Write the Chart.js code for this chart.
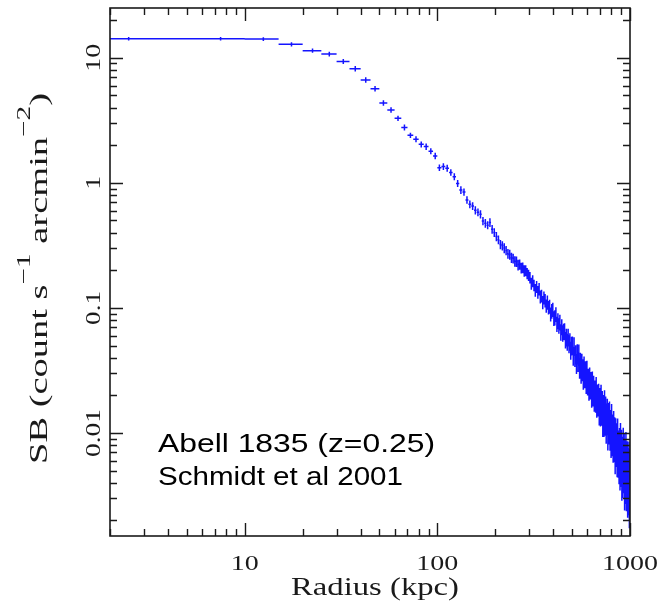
<!DOCTYPE html>
<html>
<head>
<meta charset="utf-8">
<script src="https://cdn.jsdelivr.net/npm/chart.js@4.4.1/dist/chart.umd.min.js"></script>
<style>
  html, body { margin: 0; padding: 0; background: #fff; }
  canvas { display: block; }
</style>
</head>
<body>
<canvas id="chart" width="664" height="609"></canvas>
<script>
// radial bins, 5 kpc wide
const radiusKpc = [
  2.5, 7.5, 12.5, 17.5, 22.5, 27.5, 32.5, 37.5, 42.5, 47.5,
  52.5, 57.5, 62.5, 67.5, 72.5, 77.5, 82.5, 87.5, 92.5, 97.5,
  102.5, 107.5, 112.5, 117.5, 122.5, 127.5, 132.5, 137.5, 142.5, 147.5,
  152.5, 157.5, 162.5, 167.5, 172.5, 177.5, 182.5, 187.5, 192.5, 197.5,
  202.5, 207.5, 212.5, 217.5, 222.5, 227.5, 232.5, 237.5, 242.5, 247.5,
  252.5, 257.5, 262.5, 267.5, 272.5, 277.5, 282.5, 287.5, 292.5, 297.5,
  302.5, 307.5, 312.5, 317.5, 322.5, 327.5, 332.5, 337.5, 342.5, 347.5,
  352.5, 357.5, 362.5, 367.5, 372.5, 377.5, 382.5, 387.5, 392.5, 397.5,
  402.5, 407.5, 412.5, 417.5, 422.5, 427.5, 432.5, 437.5, 442.5, 447.5,
  452.5, 457.5, 462.5, 467.5, 472.5, 477.5, 482.5, 487.5, 492.5, 497.5,
  502.5, 507.5, 512.5, 517.5, 522.5, 527.5, 532.5, 537.5, 542.5, 547.5,
  552.5, 557.5, 562.5, 567.5, 572.5, 577.5, 582.5, 587.5, 592.5, 597.5,
  602.5, 607.5, 612.5, 617.5, 622.5, 627.5, 632.5, 637.5, 642.5, 647.5,
  652.5, 657.5, 662.5, 667.5, 672.5, 677.5, 682.5, 687.5, 692.5, 697.5,
  702.5, 707.5, 712.5, 717.5, 722.5, 727.5, 732.5, 737.5, 742.5, 747.5,
  752.5, 757.5, 762.5, 767.5, 772.5, 777.5, 782.5, 787.5, 792.5, 797.5,
  802.5, 807.5, 812.5, 817.5, 822.5, 827.5, 832.5, 837.5, 842.5, 847.5,
  852.5, 857.5, 862.5, 867.5, 872.5, 877.5, 882.5, 887.5, 892.5, 897.5,
  902.5, 907.5, 912.5, 917.5, 922.5, 927.5, 932.5, 937.5, 942.5, 947.5,
  952.5, 957.5, 962.5, 967.5, 972.5, 977.5, 982.5, 987.5, 992.5, 997.5,
];

// surface brightness, count s^-1 arcmin^-2
const surfBright = [
  14.2, 14.2, 14.1, 12.8, 11.4, 10.7, 9.35, 8.17, 6.64, 5.66,
  4.35, 3.83, 3.28, 2.77, 2.40, 2.23, 2.03, 1.95, 1.79, 1.64,
  1.32, 1.35, 1.31, 1.21, 1.12, 0.99, 0.877, 0.845, 0.730, 0.674,
  0.653, 0.604, 0.582, 0.561, 0.496, 0.476, 0.459, 0.482, 0.426, 0.401,
  0.372, 0.351, 0.322, 0.315, 0.301, 0.288, 0.271, 0.267, 0.252, 0.249,
  0.236, 0.235, 0.221, 0.223, 0.209, 0.210, 0.198, 0.199, 0.189, 0.183,
  0.175, 0.157, 0.164, 0.152, 0.139, 0.148, 0.134, 0.142, 0.123, 0.125,
  0.111, 0.121, 0.115, 0.104, 0.111, 0.101, 0.103, 0.0893, 0.0946, 0.0971,
  0.0828, 0.0839, 0.0891, 0.0745, 0.0791, 0.0724, 0.0771, 0.0643, 0.0708, 0.0632,
  0.0650, 0.0652, 0.0557, 0.0586, 0.0538, 0.0586, 0.0519, 0.0541, 0.0461, 0.0502,
  0.0505, 0.0417, 0.0497, 0.0410, 0.0428, 0.0361, 0.0432, 0.0374, 0.0428, 0.0333,
  0.0368, 0.0308, 0.0361, 0.0324, 0.0275, 0.0340, 0.0286, 0.0312, 0.0259, 0.0314,
  0.0252, 0.0269, 0.0229, 0.0274, 0.0236, 0.0252, 0.0205, 0.0254, 0.0211, 0.0234,
  0.0192, 0.0213, 0.0188, 0.0226, 0.0173, 0.0197, 0.0179, 0.0200, 0.0153, 0.0184,
  0.0150, 0.0193, 0.0153, 0.0172, 0.0127, 0.0160, 0.0127, 0.0172, 0.0130, 0.0153,
  0.0114, 0.0134, 0.0147, 0.0102, 0.0134, 0.0114, 0.0137, 0.0102, 0.0117, 0.00902,
  0.0130, 0.00938, 0.0107, 0.00849, 0.0114, 0.00863, 0.0101, 0.00698, 0.00984, 0.00798,
  0.00893, 0.00676, 0.00975, 0.00675, 0.00773, 0.00598, 0.00805, 0.00545, 0.00885, 0.00586,
  0.00773, 0.00456, 0.00676, 0.00491, 0.00796, 0.00541, 0.00714, 0.00394, 0.00625, 0.00454,
  0.00721, 0.00398, 0.00526, 0.00605, 0.00358, 0.00531, 0.00386, 0.00600, 0.00309, 0.00514,
];

// 1-sigma error as a fraction of the value
const relErr = [
  0.03, 0.03, 0.035, 0.04, 0.04, 0.045, 0.045, 0.05, 0.05, 0.05,
  0.05, 0.05, 0.05, 0.055, 0.05, 0.055, 0.055, 0.06, 0.055, 0.06,
  0.06, 0.06, 0.065, 0.06, 0.065, 0.065, 0.07, 0.065, 0.07, 0.07,
  0.07, 0.075, 0.07, 0.075, 0.075, 0.08, 0.075, 0.08, 0.08, 0.08,
  0.085, 0.08, 0.085, 0.085, 0.09, 0.085, 0.09, 0.09, 0.095, 0.09,
  0.095, 0.095, 0.1, 0.095, 0.1, 0.1, 0.105, 0.1, 0.105, 0.105,
  0.105, 0.11, 0.11, 0.105, 0.115, 0.11, 0.115, 0.115, 0.12, 0.115,
  0.12, 0.12, 0.125, 0.12, 0.13, 0.125, 0.13, 0.13, 0.135, 0.13,
  0.135, 0.14, 0.135, 0.14, 0.145, 0.14, 0.145, 0.15, 0.145, 0.15,
  0.15, 0.155, 0.15, 0.16, 0.155, 0.16, 0.165, 0.16, 0.165, 0.17,
  0.17, 0.175, 0.17, 0.18, 0.175, 0.18, 0.185, 0.18, 0.19, 0.185,
  0.19, 0.195, 0.19, 0.2, 0.195, 0.2, 0.205, 0.2, 0.21, 0.205,
  0.21, 0.215, 0.21, 0.22, 0.215, 0.22, 0.225, 0.22, 0.23, 0.225,
  0.23, 0.235, 0.23, 0.24, 0.235, 0.24, 0.245, 0.24, 0.25, 0.245,
  0.25, 0.26, 0.255, 0.26, 0.27, 0.26, 0.27, 0.275, 0.27, 0.28,
  0.28, 0.285, 0.28, 0.29, 0.295, 0.29, 0.3, 0.295, 0.305, 0.3,
  0.31, 0.305, 0.315, 0.32, 0.315, 0.325, 0.32, 0.33, 0.335, 0.33,
  0.34, 0.345, 0.34, 0.35, 0.355, 0.35, 0.36, 0.365, 0.36, 0.37,
  0.375, 0.37, 0.38, 0.385, 0.38, 0.39, 0.395, 0.39, 0.4, 0.405,
  0.41, 0.405, 0.415, 0.42, 0.415, 0.425, 0.43, 0.425, 0.44, 0.45,
];

const binHalfWidth = 2.5;

const xTickValues = [10, 100, 1000];
const xTickLabels = ["10", "100", "1000"];
const yTickValues = [0.01, 0.1, 1, 10];
const yTickLabels = ["0.01", "0.1", "1", "10"];

const xTitle = "Radius (kpc)";
const yTitleParts = [
  { text: "SB (count s", sup: false },
  { text: "\u22121", sup: true },
  { text: " arcmin", sup: false },
  { text: "\u22122", sup: true },
  { text: ")", sup: false },
];
const noteLines = ["Abell 1835 (z=0.25)", "Schmidt et al 2001"];

const AXIS_FONT = "'Liberation Serif', 'DejaVu Serif', serif";
const INK = "#1a1a1a";
const DATA_BLUE = "#1414ff";

// 1..9 x 10^n positions inside [min, max]
function logTickPositions(min, max) {
  const out = [];
  for (let e = Math.floor(Math.log10(min)); e <= Math.ceil(Math.log10(max)); e++) {
    for (let m = 1; m <= 9; m++) {
      const v = m * Math.pow(10, e);
      if (v >= min * 0.9999 && v <= max * 1.0001) out.push({ v, major: m === 1 });
    }
  }
  return out;
}

// draw text stretched along its own direction to a given length
function drawFitted(ctx, parts, targetLen, align) {
  let total = 0;
  parts.forEach((p) => {
    ctx.font = p.font;
    p.w = ctx.measureText(p.text).width;
    total += p.w;
  });
  const sx = targetLen / total;
  ctx.scale(sx, 1);
  let x = align === "center" ? -total / 2 : 0;
  ctx.textAlign = "left";
  ctx.textBaseline = "alphabetic";
  parts.forEach((p) => {
    ctx.font = p.font;
    ctx.fillText(p.text, x, p.dy || 0);
    x += p.w;
  });
}

const errorBars = {
  id: "errorBars",
  afterDatasetsDraw(chart) {
    const { ctx, chartArea: a, scales: { x, y } } = chart;
    ctx.save();
    ctx.beginPath();
    ctx.rect(a.left, a.top, a.right - a.left, a.bottom - a.top);
    ctx.clip();
    ctx.strokeStyle = DATA_BLUE;
    ctx.lineWidth = 1.5;
    ctx.beginPath();
    radiusKpc.forEach((r, i) => {
      const sb = surfBright[i];
      const err = sb * relErr[i];
      const px = x.getPixelForValue(r);
      const py = y.getPixelForValue(sb);
      const lo = r - binHalfWidth > 0 ? r - binHalfWidth : x.min;
      ctx.moveTo(x.getPixelForValue(lo), py);
      ctx.lineTo(x.getPixelForValue(r + binHalfWidth), py);
      const yLo = sb - err > 0 ? sb - err : y.min;
      ctx.moveTo(px, y.getPixelForValue(yLo));
      ctx.lineTo(px, y.getPixelForValue(sb + err));
    });
    ctx.stroke();
    ctx.restore();
  },
};

const frameAndText = {
  id: "frameAndText",
  afterDraw(chart) {
    const { ctx, chartArea: a, scales: { x, y } } = chart;
    ctx.save();
    ctx.strokeStyle = INK;
    ctx.lineWidth = 1.6;
    ctx.strokeRect(a.left, a.top, a.right - a.left, a.bottom - a.top);

    // inward ticks on all four sides
    ctx.lineWidth = 1.4;
    ctx.beginPath();
    logTickPositions(x.min, x.max).forEach((t) => {
      const px = Math.round(x.getPixelForValue(t.v)) + 0.5;
      const len = t.major ? 13 : 7;
      ctx.moveTo(px, a.bottom); ctx.lineTo(px, a.bottom - len);
      ctx.moveTo(px, a.top); ctx.lineTo(px, a.top + len);
    });
    logTickPositions(y.min, y.max).forEach((t) => {
      const py = Math.round(y.getPixelForValue(t.v)) + 0.5;
      const len = t.major ? 13 : 7;
      ctx.moveTo(a.left, py); ctx.lineTo(a.left + len, py);
      ctx.moveTo(a.right, py); ctx.lineTo(a.right - len, py);
    });
    ctx.stroke();

    ctx.fillStyle = INK;
    const tickFont = "22px " + AXIS_FONT;

    xTickValues.forEach((v, i) => {
      ctx.save();
      ctx.translate(x.getPixelForValue(v), 570);
      drawFitted(ctx, [{ text: xTickLabels[i], font: tickFont }], xTickLabels[i].length * 14, "center");
      ctx.restore();
    });

    yTickValues.forEach((v, i) => {
      ctx.save();
      ctx.translate(100, y.getPixelForValue(v));
      ctx.rotate(-Math.PI / 2);
      const lbl = yTickLabels[i];
      const len = lbl.replace(".", "").length * 14 + (lbl.includes(".") ? 6 : 0);
      drawFitted(ctx, [{ text: lbl, font: tickFont }], len, "center");
      ctx.restore();
    });

    // x title
    ctx.save();
    ctx.translate((a.left + a.right) / 2 + 5, 595);
    drawFitted(ctx, [{ text: xTitle, font: "26px " + AXIS_FONT }], 168, "center");
    ctx.restore();

    // y title with superscripts
    ctx.save();
    ctx.translate(47, 464);
    ctx.rotate(-Math.PI / 2);
    const parts = yTitleParts.map((p) => ({
      text: p.text,
      font: (p.sup ? "19px " : "25px ") + AXIS_FONT,
      dy: p.sup ? -17 : 0,
    }));
    drawFitted(ctx, parts, 371, "left");
    ctx.restore();

    // annotation
    ctx.fillStyle = "#000";
    const noteFont = "26px 'Liberation Sans', Arial, sans-serif";
    [[452, 277], [485, 245]].forEach(([by, w], i) => {
      ctx.save();
      ctx.translate(158, by);
      drawFitted(ctx, [{ text: noteLines[i], font: noteFont }], w, "left");
      ctx.restore();
    });

    ctx.restore();
  },
};

const chartData = {
  datasets: [
    {
      label: "SB",
      data: radiusKpc.map((r, i) => ({ x: r, y: surfBright[i] })),
      pointRadius: 0,
      showLine: false,
    },
  ],
};

const chartConfig = {
  type: "scatter",
  data: chartData,
  options: {
    responsive: false,
    animation: false,
    devicePixelRatio: 1,
    layout: { padding: { left: 110, top: 8, right: 34, bottom: 73 } },
    plugins: { legend: { display: false }, tooltip: { enabled: false } },
    scales: {
      x: { type: "logarithmic", min: 2, max: 1000, display: false },
      y: { type: "logarithmic", min: 0.0015, max: 25, display: false },
    },
  },
  plugins: [errorBars, frameAndText],
};

window.addEventListener("DOMContentLoaded", () => {
  new Chart(document.getElementById("chart"), chartConfig);
});
</script>
</body>
</html>
